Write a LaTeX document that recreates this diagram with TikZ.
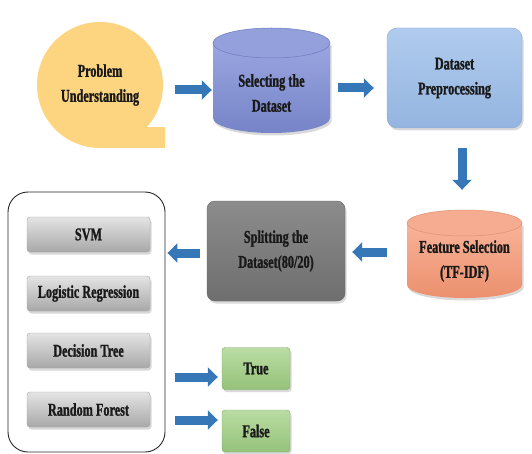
\documentclass[tikz,border=0pt]{standalone}
\usepackage{fontspec}
\newfontfamily\lbl{Liberation Serif}[FakeStretch=0.68, FakeBold=1.2]
\usetikzlibrary{arrows.meta,shadows}
\definecolor{yel}{HTML}{FDD47F}
\definecolor{selTop}{HTML}{9AA6E0}
\definecolor{selBot}{HTML}{7684C8}
\definecolor{selLid}{HTML}{94A0DC}
\definecolor{selEdge}{HTML}{6F7BC0}
\definecolor{prepTop}{HTML}{B0CBEE}
\definecolor{prepBot}{HTML}{94B5E0}
\definecolor{prepEdge}{HTML}{8FAAD0}
\definecolor{featTop}{HTML}{F8B398}
\definecolor{featBot}{HTML}{EC906E}
\definecolor{featLid}{HTML}{F6AC90}
\definecolor{featEdge}{HTML}{E09072}
\definecolor{splitTop}{HTML}{8C8C8C}
\definecolor{splitBot}{HTML}{6E6E6E}
\definecolor{btnTop}{HTML}{E4E4E4}
\definecolor{btnBot}{HTML}{A8A8A8}
\definecolor{grnTop}{HTML}{BADDA3}
\definecolor{grnBot}{HTML}{95C27A}
\definecolor{grnEdge}{HTML}{7EA866}
\definecolor{arr}{HTML}{3677B8}
\newcommand\cylshape[8]{% L R T B e bodytop bodybottom lid
  \pgfmathsetmacro\cylcx{(#1+#2)/2}
  \pgfmathsetmacro\cylrx{(#2-#1)/2}
  \path[top color=#6, bottom color=#7, drop shadow={shadow xshift=1.5pt, shadow yshift=-2.5pt, opacity=0.3}]
    (#1,#3-#5) -- (#1,#4+#5) arc[start angle=180, end angle=360, x radius=\cylrx pt, y radius=#5 pt] -- (#2,#3-#5) -- cycle;
  \fill[#8] (\cylcx,#3-#5) ellipse[x radius=\cylrx pt, y radius=#5 pt];
}
\begin{document}
\begin{tikzpicture}[x=1pt, y=1pt,
  font=\lbl\bfseries\fontsize{18}{25}\selectfont,
  lab/.style={align=center, inner sep=0pt, text=black!90},
  shad/.style={drop shadow={shadow xshift=1.5pt, shadow yshift=-2.5pt, opacity=0.3}},
  btn/.style={lab, rectangle, rounded corners=3pt, minimum width=123pt, minimum height=35pt,
    top color=btnTop, bottom color=btnBot, draw=black!35, line width=0.4pt, shad},
  grn/.style={lab, rectangle, rounded corners=3pt, minimum width=68pt, minimum height=42pt,
    top color=grnTop, bottom color=grnBot, draw=grnEdge, line width=0.4pt, shad},
  barrow/.style={draw=arr, line width=9pt, -{Triangle[length=10pt, width=19pt]}}
  ]
\useasboundingbox (0,0) rectangle (532,453);
% Problem understanding (teardrop)
\fill[yel] (100,305) rectangle (165,326);
\node[lab, circle, fill=yel, minimum size=126pt] (prob) at (100,368) {Problem\\Understanding};
% Selecting the dataset (cylinder)
\cylshape{213}{330}{425}{320}{15}{selTop}{selBot}{selLid}
\draw[selEdge, line width=0.5pt] (271.5,410) ellipse[x radius=58.5pt, y radius=15pt];
\node[lab, minimum width=117pt, minimum height=80pt] (sel) at (271.5,360) {Selecting the\\Dataset};
% Dataset preprocessing
\node[lab, rectangle, rounded corners=10pt, minimum width=135pt, minimum height=100pt,
  top color=prepTop, bottom color=prepBot, draw=prepEdge, line width=0.4pt, shad] (prep) at (454.5,375) {Dataset\\Preprocessing};
% Feature selection (cylinder)
\cylshape{407}{522}{243}{155}{13}{featTop}{featBot}{featLid}
\draw[featEdge, line width=0.5pt] (464.5,230) ellipse[x radius=57.5pt, y radius=13pt];
\node[lab, minimum width=115pt, minimum height=70pt] (feat) at (464.5,192) {Feature Selection\\(TF-IDF)};
% Splitting
\node[lab, rectangle, rounded corners=8pt, minimum width=138pt, minimum height=100pt,
  top color=splitTop, bottom color=splitBot, draw=black!60, line width=0.4pt, shad] (split) at (276,202) {Splitting the\\Dataset(80/20)};
% Model box
\node[draw=black!85, line width=0.9pt, rounded corners=20pt, minimum width=157pt, minimum height=260pt, inner sep=0pt, fill=white] (box) at (86.5,131) {};
\node[btn] (svm) at (88.5,218.5) {SVM};
\node[btn] (lr) at (88.5,159.5) {Logistic Regression};
\node[btn] (dt) at (88.5,102.5) {Decision Tree};
\node[btn] (rf) at (88.5,43.5) {Random Forest};
% True / False
\node[grn] (true) at (256,84.5) {True};
\node[grn] (false) at (256,22) {False};
% Arrows
\draw[barrow] ([xshift=12pt,yshift=-5pt]prob.east) -- ([xshift=-1pt,yshift=3pt]sel.west);
\draw[barrow] ([xshift=8pt,yshift=5pt]sel.east) -- ([xshift=-13pt,yshift=-10pt]prep.west);
\draw[barrow] ([xshift=7.5pt,yshift=-20pt]prep.south) -- ([xshift=-2.5pt,yshift=36pt]feat.north);
\draw[barrow] ([xshift=-20pt,yshift=9pt]feat.west) -- ([xshift=7pt,yshift=-1pt]split.east);
\draw[barrow] ([xshift=-7pt,yshift=-2pt]split.west) -- ([xshift=2pt,yshift=69pt]box.east);
\draw[barrow] ([xshift=10pt,yshift=-55pt]box.east) -- ([xshift=-4pt,yshift=-8.5pt]true.west);
\draw[barrow] ([xshift=10pt,yshift=-98pt]box.east) -- ([xshift=-4pt,yshift=11pt]false.west);
\end{tikzpicture}
\end{document}
